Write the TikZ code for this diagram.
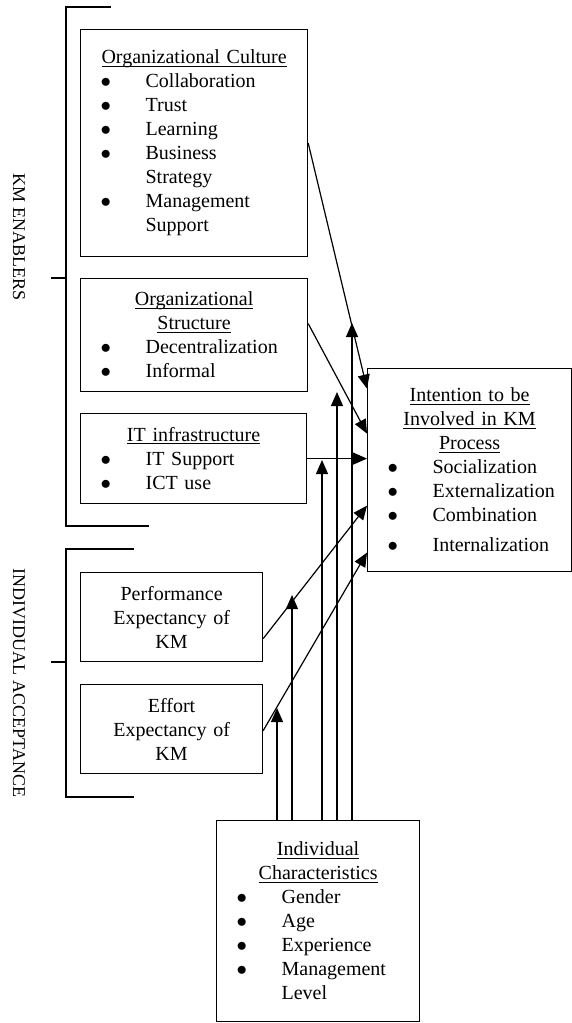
\documentclass[tikz,border=0pt]{standalone}
\usepackage{fontspec}
\setmainfont{Liberation Serif}
\usetikzlibrary{arrows.meta}

\newcommand{\uln}[1]{\leavevmode\setbox0=\hbox{#1}\rlap{\rule[-2.5pt]{\wd0}{0.9pt}}\box0}
\newcommand{\kmitem}[1]{\par\noindent\hangindent=61pt\hangafter=1\makebox[61pt][l]{\hspace{16pt}$\bullet$}#1}

\tikzset{
	blk/.style={draw, line width=1.2pt, anchor=north west, inner xsep=4pt, inner ysep=0pt,
		font=\fontsize{20}{24}\selectfont},
	lnk/.style={line width=1.2pt, -{Triangle[length=14pt,width=12pt]}},
	side/.style={rotate=-90, font=\fontsize{18}{20}\selectfont},
}

\begin{document}
\begin{tikzpicture}[x=1pt, y=-1pt]
	\useasboundingbox (0,0) rectangle (571,1023);

	% KM enablers
	\node[blk, minimum width=227pt, minimum height=227pt, text width=219pt] (cult) at (80,29)
		{{\centering\uln{Organizational Culture}\par}
		\kmitem{Collaboration}\kmitem{Trust}\kmitem{Learning}
		\kmitem{Business\newline Strategy}\kmitem{Management\newline Support}\par};
	\node[blk, minimum width=227pt, minimum height=113pt, text width=219pt] (strc) at (80,278)
		{{\centering\uln{Organizational}\par\uln{Structure}\par}
		\kmitem{Decentralization}\kmitem{Informal}\par};
	\node[blk, minimum width=226pt, minimum height=90pt, text width=218pt] (itinf) at (80,413)
		{{\centering\uln{IT infrastructure}\par}
		\kmitem{IT Support}\kmitem{ICT use}\par};

	% individual acceptance
	\node[blk, minimum width=182pt, minimum height=89pt, text width=174pt] (perf) at (80,572)
		{{\centering Performance\par Expectancy of\par KM\par}};
	\node[blk, minimum width=182pt, minimum height=89pt, text width=174pt] (effo) at (80,684)
		{{\centering Effort\par Expectancy of\par KM\par}};

	\node[blk, minimum width=204pt, minimum height=203pt, text width=196pt] (intn) at (367,368)
		{{\centering\uln{Intention to be}\par\uln{Involved in KM}\par\uln{Process}\par}
		\kmitem{Socialization}\kmitem{Externalization}\kmitem{Combination}
		\par\vspace{6pt}\kmitem{Internalization}\par};

	\node[blk, minimum width=203pt, minimum height=201pt, text width=195pt] (indv) at (216,820)
		{{\centering\uln{Individual}\par\uln{Characteristics}\par}
		\kmitem{Gender}\kmitem{Age}\kmitem{Experience}\kmitem{Management\newline Level}\par};

	% brackets and side labels
	\draw[line width=1.2pt] (111,7) -- (66,7) -- (66,526) -- (149,526);
	\draw[line width=1.2pt] (51,278) -- (66,278);
	\draw[line width=1.2pt] (134,549) -- (66,549) -- (66,797) -- (134,797);
	\draw[line width=1.2pt] (51,662) -- (66,662);
	\node[side] (kmen) at (19,237) {KM ENABLERS};
	\node[side] (iacc) at (19,683) {INDIVIDUAL ACCEPTANCE};

	% paths into intention
	\draw[lnk] (cult.east) -- ([yshift=81.5pt]intn.west);
	\draw[lnk] ([yshift=11.5pt]strc.east) -- ([yshift=36.5pt]intn.west);
	\draw[lnk] (itinf.east) -- ([yshift=11.5pt]intn.west);
	\draw[lnk] ([yshift=-21.5pt]perf.east) -- ([yshift=-35.5pt]intn.west);
	\draw[lnk] ([yshift=-1.5pt]effo.east) -- ([yshift=-82.5pt]intn.west);

	% moderating effects
	\foreach \n/\x/\y in {1/352/323, 2/337/392, 3/322/460, 4/292/595, 5/277/708}
		\coordinate (m\n) at (\x,\y);
	\foreach \n in {1,...,5}
		\draw[lnk] (indv.north -| m\n) -- (m\n);

\end{tikzpicture}
\end{document}
